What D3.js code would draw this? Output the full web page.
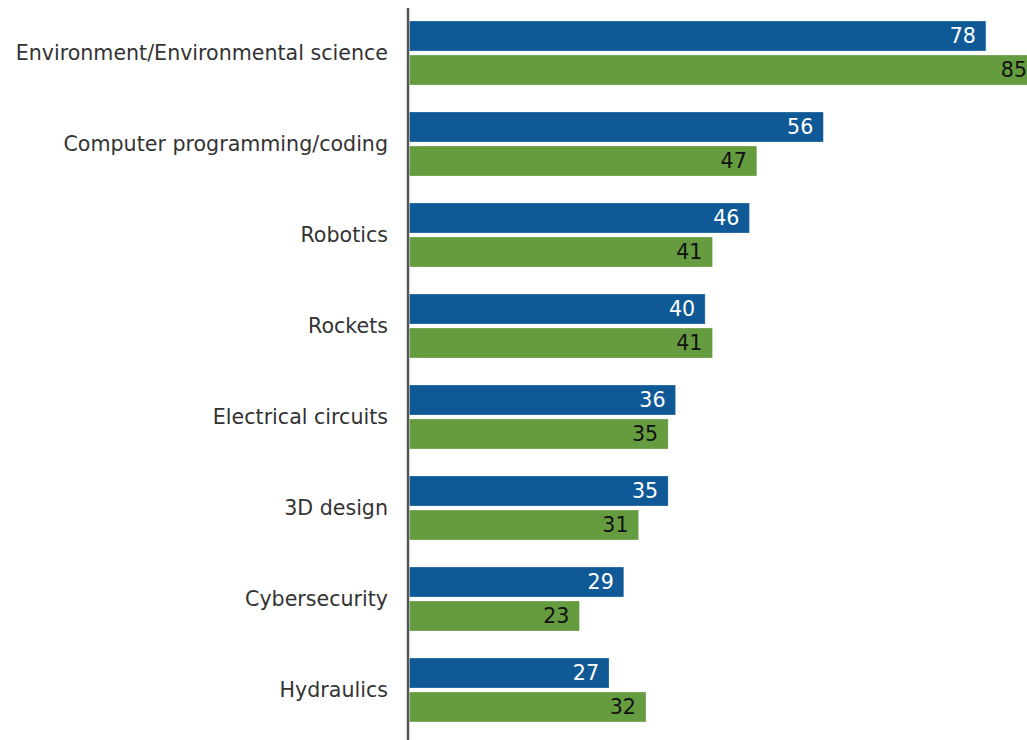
<!DOCTYPE html>
<html>
<head>
<meta charset="utf-8">
<script src="https://cdn.jsdelivr.net/npm/d3@7"></script>
<style>
  body { margin: 0; background: #fff; }
  svg { display: block; }
  .cat { font-family: "DejaVu Sans", sans-serif; font-size: 20.6px; fill: #333; }
  .val { font-family: "DejaVu Sans", sans-serif; font-size: 20.6px; }
</style>
</head>
<body>
<svg id="chart" width="1027" height="740"></svg>
<script>
var categories = ["Environment/Environmental science", "Computer programming/coding", "Robotics",
  "Rockets", "Electrical circuits", "3D design", "Cybersecurity", "Hydraulics"];
var seriesA = [78, 56, 46, 40, 36, 35, 29, 27];
var seriesB = [85, 47, 41, 41, 35, 31, 23, 32];

var svg = d3.select("#chart");
var x0 = 409.5;
var x = d3.scaleLinear().domain([0, 10]).range([x0, x0 + 73.9]);
var y = d3.scaleBand().domain(categories).range([8, 736]).paddingInner(0).paddingOuter(0);
var barH = 30, gap = 4, topOff = 13;

var colors = ["#0f5a96", "#659c40"];
var textCol = ["#fff", "#111"];
var series = [seriesA, seriesB];

var g = svg.append("g");
categories.forEach(function(c, i) {
  var gy = y(c);
  series.forEach(function(s, k) {
    var by = gy + topOff + k * (barH + gap);
    g.append("rect")
      .attr("x", x(0))
      .attr("y", by)
      .attr("width", x(s[i]) - x(0))
      .attr("height", barH)
      .attr("fill", colors[k])
      .attr("stroke", "rgba(255,255,255,0.5)")
      .attr("stroke-width", 0.5);
    g.append("text")
      .attr("class", "val")
      .attr("x", Math.min(x(s[i]), 1037) - 10)
      .attr("y", by + barH / 2)
      .attr("dy", "0.36em")
      .attr("text-anchor", "end")
      .attr("fill", textCol[k])
      .text(s[i]);
  });
  g.append("text")
    .attr("class", "cat")
    .attr("x", 388)
    .attr("y", gy + topOff + barH + gap / 2)
    .attr("dy", "0.36em")
    .attr("text-anchor", "end")
    .text(c);
});

svg.append("line")
  .attr("x1", 408).attr("x2", 408)
  .attr("y1", 8).attr("y2", 740)
  .attr("stroke", "#555").attr("stroke-width", 2.5);
</script>
</body>
</html>
